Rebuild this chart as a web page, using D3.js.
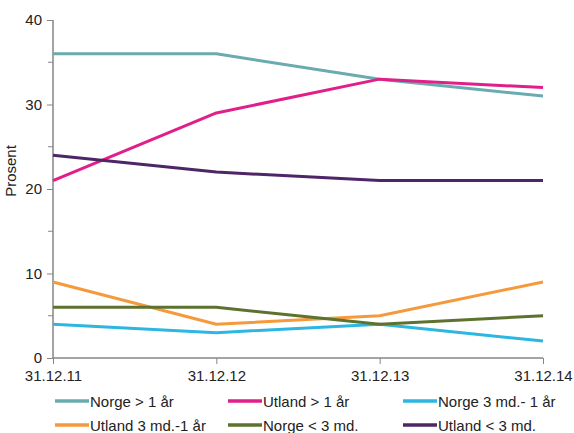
<!DOCTYPE html>
<html>
<head>
<meta charset="utf-8">
<script src="https://cdn.jsdelivr.net/npm/d3@7"></script>
<style>
  html, body { margin: 0; padding: 0; background: #fff; }
  svg { display: block; font-family: Arial, "Liberation Sans", sans-serif; }
</style>
</head>
<body>
<svg id="chart" width="574" height="433"></svg>
<script>
// Dates on the category axis
const categories = ["31.12.11", "31.12.12", "31.12.13", "31.12.14"];

// Share per group, percent
const norgeOver1 = [36, 36, 33, 31];
const utlandOver1 = [21, 29, 33, 32];
const norge3mdTil1 = [4, 3, 4, 2];
const utland3mdTil1 = [9, 4, 5, 9];
const norgeUnder3 = [6, 6, 4, 5];
const utlandUnder3 = [24, 22, 21, 21];

const seriesNames = [
  "Norge > 1 år", "Utland > 1 år", "Norge 3 md.- 1 år",
  "Utland 3 md.-1 år", "Norge < 3 md.", "Utland < 3 md."
];
const seriesValues = [norgeOver1, utlandOver1, norge3mdTil1, utland3mdTil1, norgeUnder3, utlandUnder3];
const seriesColors = ["#6aabb0", "#e01f8a", "#2db6e1", "#f59a3c", "#5e7230", "#4e2566"];

const yTicks = [0, 10, 20, 30, 40];
const yMinorTicks = [5, 15, 25, 35];

(function () {
  const svg = d3.select("#chart");
  const plotLeft = 53, plotRight = 543, plotTop = 20, plotBottom = 358;

  const x = d3.scalePoint().domain(categories).range([plotLeft, plotRight]);
  const y = d3.scaleLinear().domain([0, 40]).range([plotBottom, plotTop]);

  const axisColor = "#868686";

  // Y axis
  const yAxis = svg.append("g").attr("transform", `translate(${plotLeft},0)`)
    .call(d3.axisLeft(y).tickValues(yTicks).tickSize(6).tickPadding(5).tickFormat(d3.format("d")));
  yAxis.select(".domain").attr("stroke", axisColor).attr("stroke-width", 1.5).attr("d", `M0,${plotTop}V${plotBottom}`);
  yAxis.selectAll(".tick line").attr("stroke", axisColor).attr("stroke-width", 1);
  yAxis.selectAll(".tick text").attr("font-size", 15).attr("fill", "#222");
  yAxis.selectAll(".minor").data(yMinorTicks).enter().append("line")
    .attr("class", "minor").attr("x1", -5).attr("x2", 0)
    .attr("y1", d => y(d)).attr("y2", d => y(d)).attr("stroke", axisColor);

  // X axis
  const xAxis = svg.append("g").attr("transform", `translate(0,${plotBottom})`)
    .call(d3.axisBottom(x).tickSize(6).tickPadding(6));
  xAxis.select(".domain").attr("stroke", axisColor).attr("stroke-width", 1.5).attr("d", `M${plotLeft},0H${plotRight}`);
  xAxis.selectAll(".tick line").attr("stroke", axisColor);
  xAxis.selectAll(".tick text").attr("font-size", 15).attr("fill", "#222");

  // Y axis title
  svg.append("text")
    .attr("transform", `translate(16,171) rotate(-90)`)
    .attr("text-anchor", "middle").attr("font-size", 15).attr("fill", "#222")
    .text("Prosent");

  // Lines
  const line = d3.line().x((d, i) => x(categories[i])).y(d => y(d));
  svg.append("g").selectAll("path").data(seriesValues).enter().append("path")
    .attr("d", line).attr("fill", "none")
    .attr("stroke", (d, i) => seriesColors[i]).attr("stroke-width", 3)
    .attr("stroke-linejoin", "round");

  // Legend, three columns by two rows
  const legendCols = [55, 228, 403];
  const legendRows = [401, 425];
  const legend = svg.append("g").selectAll("g").data(seriesNames).enter().append("g")
    .attr("transform", (d, i) => `translate(${legendCols[i % 3]},${legendRows[Math.floor(i / 3)]})`);
  legend.append("line").attr("x1", 0).attr("x2", 34).attr("y1", 0).attr("y2", 0)
    .attr("stroke", (d, i) => seriesColors[i]).attr("stroke-width", 3.5);
  legend.append("text").attr("x", 35).attr("y", 5.5).attr("font-size", 15).attr("fill", "#222")
    .text(d => d);
})();
</script>
</body>
</html>
